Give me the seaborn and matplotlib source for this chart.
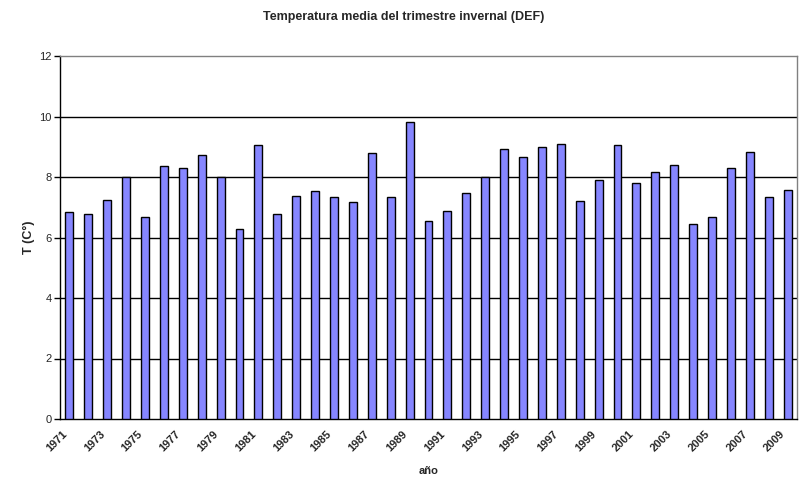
import matplotlib
matplotlib.use("Agg")
import matplotlib.pyplot as plt
import seaborn as sns
import pandas as pd
from matplotlib.ticker import FixedLocator

years = list(range(1971, 2010))
temps = [6.84, 6.78, 7.25, 8.00, 6.68, 8.36, 8.31, 8.74, 8.00, 6.29,
         9.07, 6.78, 7.38, 7.55, 7.34, 7.18, 8.80, 7.34, 9.82, 6.56,
         6.89, 7.48, 8.00, 8.93, 8.67, 9.00, 9.10, 7.22, 7.91, 9.07,
         7.81, 8.17, 8.41, 6.46, 6.69, 8.31, 8.83, 7.35, 7.58]
title = "Temperatura media del trimestre invernal (DEF)"
xlabel = "año"
ylabel = "T (C°)"

df = pd.DataFrame({"year": [str(y) for y in years], "temp": temps})

sns.set_style("white")
plt.rcParams['font.family'] = ['Liberation Sans', 'DejaVu Sans']

fig = plt.figure(figsize=(8.12, 4.83), dpi=100)
ax = fig.add_axes([60/812, 1-419/483, (797-60)/812, (419-56)/483])

sns.barplot(data=df, x="year", y="temp", color="#8686ff", saturation=1,
            edgecolor="black", linewidth=1.0, width=0.42, ax=ax, zorder=3)

ax.set_ylim(0, 12)
ax.set_xlim(-0.5, len(years) - 0.5)
ax.set_yticks(range(0, 13, 2))
ax.set_yticklabels([str(v) for v in range(0, 13, 2)], fontsize=8)
for v in range(2, 12, 2):
    ax.axhline(v, color="black", linewidth=1.0, zorder=1)

pos = list(range(0, len(years), 2))
# label anchors sit slightly left of the bar centres (Excel-style rotated labels)
ax.set_xticks([i - 0.4 for i in pos])
ax.set_xticklabels([str(years[i]) for i in pos], rotation=45, ha="right",
                   rotation_mode="anchor", fontsize=8, fontweight="bold")
ax.xaxis.set_minor_locator(FixedLocator([i - 0.5 for i in range(len(years) + 1)]))
ax.tick_params(axis="x", which="major", length=0, pad=7)
ax.tick_params(axis="x", which="minor", length=4, width=1, color="black", direction="out")
ax.tick_params(axis="y", which="major", length=4, width=1, color="black", direction="out", pad=2)
ax.tick_params(bottom=True, left=True)

for s in ["top", "right"]:
    ax.spines[s].set_color("#808080")
    ax.spines[s].set_linewidth(1.0)
for s in ["left", "bottom"]:
    ax.spines[s].set_color("black")
    ax.spines[s].set_linewidth(1.0)

ax.set_xlabel(xlabel, fontsize=8, fontweight="bold", labelpad=9)
ax.set_ylabel(ylabel, fontsize=9, fontweight="bold", labelpad=3)
fig.text(0.5 * (60 + 797) / 812 - 0.03, 1 - 17/483, title, ha="center", va="center",
         fontsize=9, fontweight="bold")

fig.savefig("out.png", dpi=100, facecolor="white")
